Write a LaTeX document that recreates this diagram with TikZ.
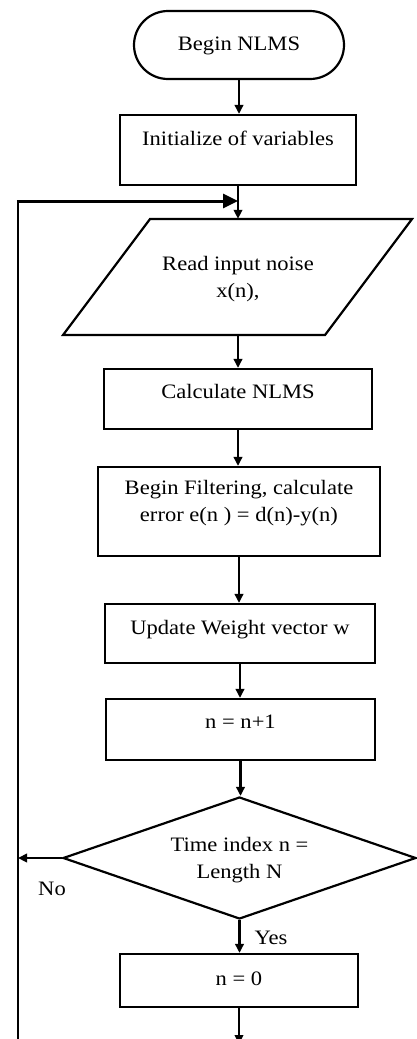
\documentclass[tikz,border=0pt]{standalone}
\usepackage{fontspec}
\setmainfont{Liberation Serif}[FakeStretch=1.1]
\usetikzlibrary{arrows.meta,shapes.misc,shapes.geometric}
\begin{document}
\begin{tikzpicture}[x=1pt,y=-1pt,
  every node/.style={font=\fontsize{20.5}{27}\selectfont},
  box/.style={draw, line width=2.2pt, inner sep=0pt},
  one/.style={text height=14pt, text depth=4pt, inner sep=0pt},
  two/.style={align=center, inner sep=0pt},
  arr/.style={line width=2.2pt, -{Triangle[length=9pt,width=8.5pt]}},
  looparr/.style={line width=3pt, -{Triangle[length=15pt,width=14pt]}},
  leftline/.style={line width=2.4pt}]
\useasboundingbox (0,0) rectangle (417,1039);

\node[box, rounded rectangle, minimum width=210pt, minimum height=68pt,
  label={[one]center:Begin NLMS}] (begin) at (239,45) {};
\node[box, minimum width=236pt, minimum height=70pt,
  label={[one,yshift=10pt]center:Initialize of variables}] (init) at (238,150) {};

\draw[line width=2.2pt, line join=miter] (150,219) -- (412,219) -- (325,335) -- (63,335) -- cycle;
\node[minimum width=262pt, minimum height=116pt, inner sep=0pt,
  label={[two,yshift=-2.5pt]center:Read input noise\\x(n),}] (read) at (238,277) {};

\node[box, minimum width=268pt, minimum height=60pt,
  label={[one,yshift=6pt]center:Calculate NLMS}] (calc) at (238,399) {};
\node[box, minimum width=282pt, minimum height=89pt,
  label={[two,yshift=8pt]center:Begin Filtering, calculate\\error e(n ) = d(n)-y(n)}] (filt) at (239,511.5) {};
\node[box, minimum width=270pt, minimum height=59pt,
  label={[one,yshift=4pt]center:Update Weight vector w}] (upd) at (240,633.5) {};
\node[box, minimum width=269pt, minimum height=61pt,
  label={[one,yshift=6pt]center:n = n+1}] (inc) at (240.5,729.5) {};
\node[box, diamond, minimum width=353pt, minimum height=122pt,
  label={[two,yshift=-2pt]center:Time index n =\\Length N}] (dec) at (239.5,858) {};
\node[box, minimum width=238pt, minimum height=53pt,
  label={[one]center:n = 0}] (zero) at (239,980.5) {};

\node[one] (no) at (52,890) {No};
\node[one] (yes) at (271,939) {Yes};

\coordinate (bot) at (18,1044);
\coordinate (lvl) at (0,201);

\draw[arr] (begin.south) -- (begin.south |- init.north);
\draw[arr] (init.south) -- (init.south |- read.north);
\draw[arr] (read.south) -- (read.south |- calc.north);
\draw[arr] (calc.south) -- (calc.south |- filt.north);
\draw[arr] (filt.south) -- (filt.south |- upd.north);
\draw[arr] (upd.south) -- (upd.south |- inc.north);
\draw[arr] (inc.south) -- (inc.south |- dec.north);
\draw[arr] (dec.south) -- (dec.south |- zero.north);
\draw[arr] (zero.south) -- (zero.south |- bot);
\draw[arr] (dec.west) -- (dec.west -| bot);
\draw[leftline] (bot) -- (bot |- lvl);
\draw[looparr] ([xshift=-1.2pt]bot |- lvl) -- (init.south |- lvl);
\end{tikzpicture}
\end{document}
